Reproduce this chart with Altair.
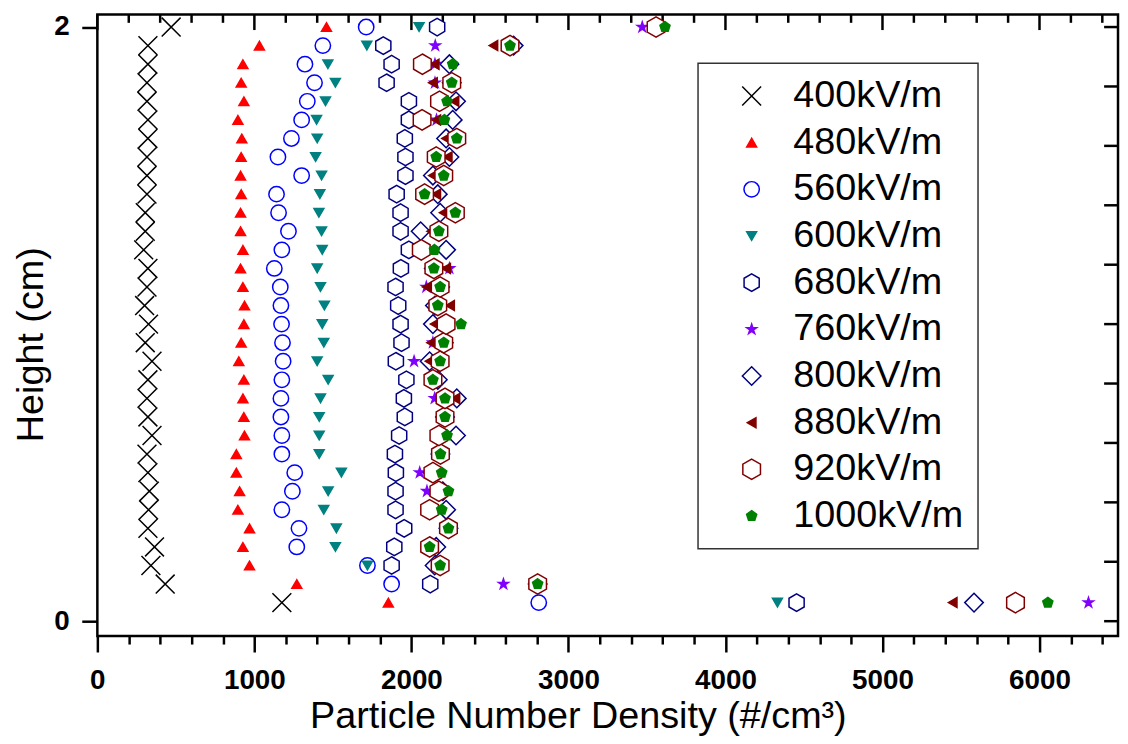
import altair as alt
import pandas as pd

series = ["400kV/m", "480kV/m", "560kV/m", "600kV/m", "680kV/m",
          "760kV/m", "800kV/m", "880kV/m", "920kV/m", "1000kV/m"]

heights = [0.0625, 0.125, 0.1875, 0.25, 0.3125, 0.375, 0.4375, 0.5,
           0.5625, 0.625, 0.6875, 0.75, 0.8125, 0.875, 0.9375, 1.0,
           1.0625, 1.125, 1.1875, 1.25, 1.3125, 1.375, 1.4375, 1.5,
           1.5625, 1.625, 1.6875, 1.75, 1.8125, 1.875, 1.9375, 2.0]

s400 = [1175, 432, 341, 364, 322, 326, 331, 322, 316, 348, 322, 316, 322, 348, 305, 326,
        301, 316, 322, 295, 305, 305, 316, 316, 316, 322, 322, 316, 316, 322, 322, 470]
s480 = [1853, 1270, 969, 927, 969, 895, 906, 885, 885, 937, 933, 927, 933, 901, 916, 933,
        937, 927, 912, 927, 912, 912, 916, 912, 916, 920, 895, 933, 916, 927, 1032, 1459]
s560 = [2811, 1874, 1720, 1270, 1284, 1175, 1242, 1257, 1175, 1175, 1169, 1169, 1175, 1183, 1179, 1173,
        1169, 1165, 1127, 1175, 1217, 1154, 1141, 1301, 1150, 1236, 1301, 1337, 1383, 1322, 1436, 1712]
s600 = [4331, None, 1720, 1516, 1522, 1442, 1470, 1554, 1413, 1413, 1413, 1421, 1470, 1400, 1442, 1432,
        1446, 1421, 1400, 1432, 1428, 1411, 1417, 1428, 1390, 1400, 1396, 1453, 1516, 1468, 1716, 2049]
s680 = [4453, 2120, 1874, 1891, 1954, 1899, 1899, 1901, 1895, 1922, 1958, 1952, 1968, 1901, 1937, 1931,
        1916, 1899, 1933, 1984, 1931, 1931, 1906, 1962, 1962, 1958, 1984, 1984, 1842, 1874, 1821, 2164]
s760 = [6312, 2586, 2183, 2116, 2236, 2116, 2099, 2053, 2185, 2175, 2214, 2148, 2137, 2017, 2137, 2221,
        2168, 2095, 2242, 2063, 2175, 2280, 2084, 2206, 2158, 2289, 2160, 2179, 2150, 2150, 2152, 3470]
s800 = [5583, 2804, 2148, 2158, 2236, 2221, 2200, 2137, 2185, 2284, 2214, 2289, 2168, 2116, 2206, 2137,
        2150, 2183, 2143, 2221, 2059, 2183, 2168, 2137, 2242, 2221, 2263, 2284, 2257, 2242, 2651, None]
s880 = [5447, 2804, 2183, 2116, 2236, 2116, 2175, 2137, 2185, 2175, 2214, 2280, 2137, 2116, 2126, 2148,
        2246, 2099, 2221, 2063, 2126, 2206, 2158, 2137, 2231, 2221, 2158, 2274, 2137, 2148, 2522, None]
s920 = [5847, 2804, 2183, 2116, 2236, 2116, 2175, 2137, 2185, 2175, 2214, 2214, 2137, 2183, 2206, 2221,
        2168, 2183, 2143, 2063, 2175, 2280, 2084, 2206, 2158, 2289, 2068, 2179, 2257, 2070, 2628, 3558]
s1000 = [6053, 2804, 2183, 2116, 2236, 2193, 2236, 2193, 2185, 2227, 2214, 2214, 2137, 2183, 2206, 2316,
         2168, 2183, 2143, 2147, 2175, 2280, 2084, 2206, 2158, 2289, 2210, 2227, 2257, 2263, 2628, 3615]

all_values = [s400, s480, s560, s600, s680, s760, s800, s880, s920, s1000]

x_ticks = list(range(0, 6501, 200))
x_major = [0, 1000, 2000, 3000, 4000, 5000, 6000]
x_minor = [t for t in x_ticks if t not in x_major]
y_ticks = [0, 0.2, 0.4, 0.6, 0.8, 1, 1.2, 1.4, 1.6, 1.8, 2]

X_PATH = "M-1,-1L1,1M-1,1L1,-1"
HEX = "M0,-1L0.866,-0.5L0.866,0.5L0,1L-0.866,0.5L-0.866,-0.5Z"
STAR = ("M0,-1L0.2245,-0.309L0.951,-0.309L0.363,0.118L0.588,0.809L0,0.382"
        "L-0.588,0.809L-0.363,0.118L-0.951,-0.309L-0.2245,-0.309Z")
PENT = "M0,-1L0.951,-0.309L0.588,0.809L-0.588,0.809L-0.951,-0.309Z"

shapes = [X_PATH, "triangle-up", "circle", "triangle-down", HEX, STAR,
          "diamond", "triangle-left", HEX, PENT]
strokes = ["#000000", "#ff0000", "#0000ff", "#008080", "#000080", "#8000ff",
           "#000080", "#800000", "#800000", "#008000"]
fills = ["transparent", "#ff0000", "#ffffff", "#008080", "#ffffff", "#8000ff",
         "#ffffff", "#800000", "#ffffff", "#008000"]
sizes = [361, 100, 240, 100, 310, 110, 350, 100, 420, 115]

rows = []
for name, vals in zip(series, all_values):
    for h, v in zip(heights, vals):
        if v is not None:
            rows.append({"series": name, "value": v, "height": h})
df = pd.DataFrame(rows)

W, H = 1028, 626
FONT = "Liberation Sans"

xscale = alt.Scale(domain=[0, 6500], nice=False, zero=False)
yscale = alt.Scale(domain=[-0.0502, 2.042], nice=False, zero=False)

legend = alt.Legend(title=None, orient="none", legendX=605, legendY=49,
                    direction="vertical", padding=14, rowPadding=9,
                    labelFont=FONT, labelFontSize=38, labelColor="black",
                    labelLimit=600, symbolStrokeWidth=1.5,
                    symbolOffset=21, labelOffset=23,
                    strokeColor="#333333", fillColor="white")

xaxis = alt.Axis(values=x_ticks, format="d",
                 labelExpr="datum.value % 1000 === 0 ? datum.label : ''",
                 tickSize={"condition": {"test": "datum.value % 1000 === 0", "value": 16}, "value": 8},
                 tickWidth=2.5, tickColor="black", domain=False, grid=False,
                 labelFont=FONT, labelFontSize=28, labelFontWeight="bold",
                 labelColor="black", labelPadding=15, labelFlush=False, labelOverlap=False,
                 title="Particle Number Density (#/cm³)", titleFont=FONT,
                 titleFontSize=38, titleFontWeight="normal", titleColor="black",
                 titleX=484, titleY=92, titleBaseline="alphabetic", titleAlign="center")

yaxis = alt.Axis(values=y_ticks, format="d",
                 labelExpr="datum.value % 1 === 0 ? datum.label : ''",
                 tickSize={"condition": {"test": "datum.value % 1 === 0", "value": 15.7}, "value": 7.7},
                 tickWidth=2.5, tickColor="black", domain=False, grid=False,
                 labelFont=FONT, labelFontSize=28, labelFontWeight="bold",
                 labelColor="black", labelPadding=12.6, labelFlush=False, labelOverlap=False,
                 title="Height (cm)", titleFont=FONT, titleFontSize=38,
                 titleFontWeight="normal", titleColor="black", titleAngle=270,
                 titleX=-55, titleY=332, titleBaseline="alphabetic", titleAlign="center")

points = alt.Chart(df).mark_point(opacity=1, strokeWidth=1.5).encode(
    x=alt.X("value:Q", scale=xscale, axis=xaxis),
    y=alt.Y("height:Q", scale=yscale, axis=yaxis),
    shape=alt.Shape("series:N", scale=alt.Scale(domain=series, range=shapes), legend=legend),
    fill=alt.Fill("series:N", scale=alt.Scale(domain=series, range=fills), legend=legend),
    stroke=alt.Stroke("series:N", scale=alt.Scale(domain=series, range=strokes), legend=legend),
    size=alt.Size("series:N", scale=alt.Scale(type="ordinal", domain=series, range=sizes), legend=legend),
)

top_major = alt.Chart(pd.DataFrame({"v": x_major})).mark_rule(color="black", strokeWidth=2.5).encode(
    x=alt.X("v:Q", scale=xscale, axis=xaxis), y=alt.value(0), y2=alt.value(15.6))
top_minor = alt.Chart(pd.DataFrame({"v": x_minor})).mark_rule(color="black", strokeWidth=2.5).encode(
    x=alt.X("v:Q", scale=xscale, axis=xaxis), y=alt.value(0), y2=alt.value(8.3))
right_ticks = alt.Chart(pd.DataFrame({"v": y_ticks})).mark_rule(color="black", strokeWidth=2.5).encode(
    y=alt.Y("v:Q", scale=yscale, axis=yaxis), x=alt.value(W - 14), x2=alt.value(W))

chart = alt.layer(top_major, top_minor, right_ticks, points).properties(
    width=W, height=H,
    padding={"left": 90, "top": 4, "right": 2, "bottom": 98},
    autosize=alt.AutoSizeParams(type="none"),
    background="white",
).configure_view(stroke="black", strokeWidth=2.5).configure_legend(strokeWidth=1.5)

chart.save("out.html", embed_options={"renderer": "svg", "actions": False})
